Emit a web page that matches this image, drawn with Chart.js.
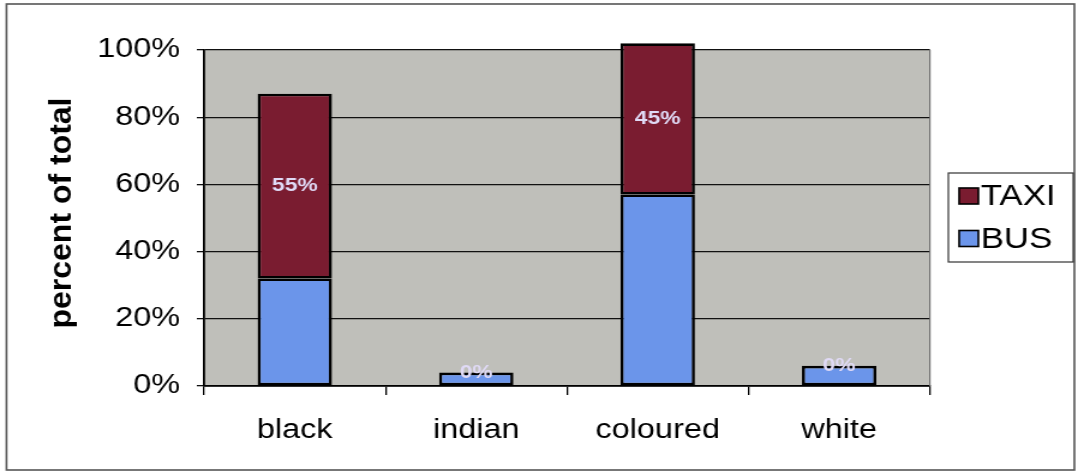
<!DOCTYPE html>
<html>
<head>
<meta charset="utf-8">
<script src="https://cdn.jsdelivr.net/npm/chart.js@4.4.1/dist/chart.umd.min.js"></script>
<style>
  html, body { margin: 0; padding: 0; background: #ffffff; }
  #wrap { position: relative; width: 1078px; height: 474px; overflow: hidden; }
  #chart { position: absolute; left: 0; top: 0; }
</style>
</head>
<body>
<div id="wrap">
  <!-- drawn on a narrower canvas and shown 1.2x wider, like the original sheet export -->
  <canvas id="chart" width="898" height="474" style="width:1078px;height:474px;"></canvas>
</div>
<script>
// Mode share by population group (percent of total)
const categories = ['black', 'indian', 'coloured', 'white'];
const busShare = [32, 4, 57, 6];
const taxiShare = [55, 0, 45, 0];
const seriesNames = ['BUS', 'TAXI'];
const yTicks = [0, 20, 40, 60, 80, 100];
const yTitle = 'percent of total';

const FONT = '"Liberation Sans", Arial, Helvetica, sans-serif';
const BUS_COLOR = '#6B95EA';
const TAXI_COLOR = '#7A1C30';
const PLOT_BG = '#BFBFBA';

Chart.defaults.font.family = FONT;
Chart.defaults.color = '#000000';

// page background, outer frame and grey plot area
const backdrop = {
  id: 'backdrop',
  beforeDraw(chart) {
    const { ctx, chartArea: a } = chart;
    ctx.save();
    ctx.fillStyle = '#ffffff';
    ctx.fillRect(0, 0, chart.width, chart.height);
    ctx.strokeStyle = '#555555';
    ctx.lineWidth = 1.6;
    ctx.strokeRect(5.4, 4, 889.6, 466);
    ctx.fillStyle = PLOT_BG;
    ctx.fillRect(a.left, a.top, a.right - a.left, a.bottom - a.top);
    ctx.restore();
  },
  afterDraw(chart) {
    const { ctx, chartArea: a } = chart;
    ctx.save();
    // right edge of the plot area
    ctx.strokeStyle = '#6e6e6e';
    ctx.lineWidth = 1.2;
    ctx.beginPath();
    ctx.moveTo(a.right, a.top);
    ctx.lineTo(a.right, a.bottom);
    ctx.stroke();
    ctx.restore();
  }
};

// value labels centred on the TAXI segments
const segmentLabels = {
  id: 'segmentLabels',
  afterDatasetsDraw(chart) {
    const ctx = chart.ctx;
    const meta = chart.getDatasetMeta(1);
    const values = chart.data.datasets[1].data;
    ctx.save();
    ctx.font = 'bold 19px ' + FONT;
    ctx.fillStyle = '#E0DAF6';
    ctx.textAlign = 'center';
    ctx.textBaseline = 'middle';
    meta.data.forEach((bar, i) => {
      const y = (bar.y + bar.base) / 2;
      ctx.fillText(values[i] + '%', bar.x, y);
    });
    ctx.restore();
  }
};

// rotated axis title on the left
const axisTitle = {
  id: 'axisTitle',
  afterDraw(chart) {
    const ctx = chart.ctx;
    const a = chart.chartArea;
    ctx.save();
    ctx.translate(52, (a.top + a.bottom) / 2 - 5);
    ctx.rotate(-Math.PI / 2);
    ctx.font = 'bold 25px ' + FONT;
    const w = ctx.measureText(yTitle).width;
    ctx.scale(231 / w, 1);
    ctx.fillStyle = '#000000';
    ctx.textAlign = 'center';
    ctx.textBaseline = 'middle';
    ctx.fillText(yTitle, 0, 0);
    ctx.restore();
  }
};

// boxed legend at the right, TAXI listed first
const boxedLegend = {
  id: 'boxedLegend',
  afterDraw(chart) {
    const ctx = chart.ctx;
    const box = { x: 790, y: 173, w: 104, h: 89 };
    ctx.save();
    ctx.fillStyle = '#ffffff';
    ctx.fillRect(box.x, box.y, box.w, box.h);
    ctx.strokeStyle = '#333333';
    ctx.lineWidth = 1.2;
    ctx.strokeRect(box.x, box.y, box.w, box.h);
    const order = chart.data.datasets.map((d, i) => i).reverse();
    const rowY = [196, 238.5];
    ctx.font = '29px ' + FONT;
    ctx.textAlign = 'left';
    ctx.textBaseline = 'middle';
    order.forEach((di, row) => {
      const ds = chart.data.datasets[di];
      const cy = rowY[row];
      ctx.fillStyle = ds.backgroundColor;
      ctx.fillRect(799, cy - 8, 16, 16);
      ctx.strokeStyle = '#000000';
      ctx.lineWidth = 1.6;
      ctx.strokeRect(799, cy - 8, 16, 16);
      ctx.fillStyle = '#000000';
      ctx.fillText(ds.label, 817, cy + 1);
    });
    ctx.restore();
  }
};

new Chart(document.getElementById('chart'), {
  type: 'bar',
  data: {
    labels: categories,
    datasets: [
      {
        label: seriesNames[0],
        data: busShare,
        backgroundColor: BUS_COLOR,
        borderColor: '#000000',
        borderWidth: 2.6,
        borderSkipped: false,
        stack: 'mode',
        clip: false
      },
      {
        label: seriesNames[1],
        data: taxiShare,
        backgroundColor: TAXI_COLOR,
        borderColor: '#000000',
        borderWidth: 2.6,
        borderSkipped: false,
        stack: 'mode',
        clip: false
      }
    ]
  },
  options: {
    responsive: false,
    animation: false,
    devicePixelRatio: 1,
    events: [],
    layout: { padding: { top: 50, right: 123.4, bottom: 0, left: 0 } },
    datasets: { bar: { categoryPercentage: 1, barPercentage: 0.41 } },
    plugins: {
      legend: { display: false },
      tooltip: { enabled: false },
      title: { display: false }
    },
    scales: {
      x: {
        stacked: true,
        afterFit(scale) { scale.height = 88; },
        grid: {
          offset: true,
          drawOnChartArea: false,
          drawTicks: true,
          tickLength: 9,
          color: '#000000',
          lineWidth: 1.3
        },
        border: { display: true, color: '#000000', width: 1.8 },
        ticks: { font: { size: 27 }, color: '#000000', padding: 19 }
      },
      y: {
        stacked: true,
        min: 0,
        max: 100,
        afterFit(scale) { scale.width = 170; },
        afterBuildTicks(scale) { scale.ticks = yTicks.map(v => ({ value: v })); },
        grid: {
          color: '#111111',
          lineWidth: 1.3,
          drawTicks: true,
          tickLength: 6
        },
        border: { display: true, color: '#000000', width: 1.8 },
        ticks: {
          font: { size: 27 },
          color: '#000000',
          padding: 14,
          callback: v => v + '%'
        }
      }
    }
  },
  plugins: [backdrop, segmentLabels, axisTitle, boxedLegend]
});
</script>
</body>
</html>
